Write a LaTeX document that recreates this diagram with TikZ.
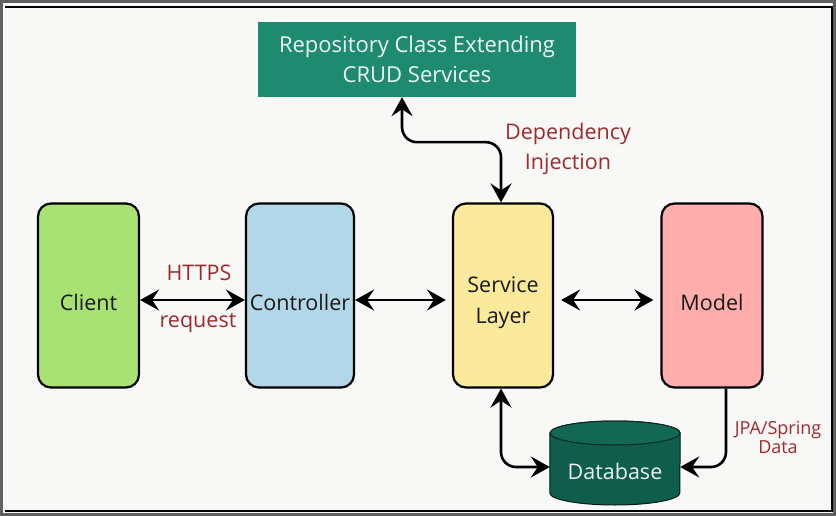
\documentclass[tikz,border=0pt]{standalone}
\usepackage{fontspec}
\setmainfont{Open Sans}
\usetikzlibrary{arrows.meta,calc}
\definecolor{teal1}{HTML}{1E8A70}
\definecolor{dbteal}{HTML}{0F5E4B}
\definecolor{dbtop}{HTML}{136854}
\definecolor{clientg}{HTML}{A9E274}
\definecolor{ctrlb}{HTML}{B2D7E8}
\definecolor{svcy}{HTML}{FCEA9C}
\definecolor{modelp}{HTML}{FFADAD}
\definecolor{lblred}{HTML}{9E2A2E}
\definecolor{bgc}{HTML}{F8F8F6}
\tikzset{
  compbox/.style={draw=black,line width=2.2pt,rounded corners=13pt,minimum width=101pt,minimum height=184pt,inner sep=0pt},
  boxtext/.style={font=\fontsize{21.5}{31}\selectfont,align=center,text=black!90,inner sep=0pt},
  conn/.style={line width=2.6pt,{Stealth[length=19pt,width=21pt,inset=7pt]}-{Stealth[length=19pt,width=21pt,inset=7pt]}},
  connone/.style={line width=2.6pt,-{Stealth[length=19pt,width=21pt,inset=7pt]}},
  lbl/.style={text=lblred,font=\fontsize{21.5}{30}\selectfont,align=center},
  lblsmall/.style={text=lblred,font=\fontsize{18}{19}\selectfont,align=center}
}
\begin{document}
\begin{tikzpicture}[x=1pt,y=-1pt]
\useasboundingbox (0,0) rectangle (836,516);
\fill[gray!75!black] (0,0) rectangle (836,516);
\fill[bgc] (3,3) rectangle (833,513);
\draw[black,line width=1.6pt] (5,7) -- (832,7) -- (832,511) -- (5,511);

% top repository box
\node[fill=teal1,minimum width=318pt,minimum height=75pt,text=white!92!teal1,font=\fontsize{22}{30}\selectfont,align=center,inner sep=0pt] (repo) at (417,59.5) {Repository Class Extending\\CRUD Services};

% component boxes
\node[compbox,fill=clientg] (client) at (88.5,295.5) {};
\node[compbox,fill=ctrlb,minimum width=108pt] (ctrl) at (300,295.5) {};
\node[compbox,fill=svcy,minimum width=100pt] (svc) at (503,295.5) {};
\node[compbox,fill=modelp] (model) at (712,295.5) {};
\node[boxtext] (clientT) at (88.5,302) {Client};
\node[boxtext] (ctrlT) at (300,302) {Controller};
\node[boxtext] (svcT) at (503,303) {Service\\Layer};
\node[boxtext] (modelT) at (712,302) {Model};

% database cylinder
\node[minimum width=130pt,minimum height=84pt,inner sep=0pt] (db) at (615,463) {};
\fill[dbteal,draw=black!70!dbteal,line width=1pt]
  (db.west |- 0,433) -- (db.west |- 0,493) arc[start angle=180,end angle=360,x radius=65pt,y radius=12pt]
  -- (db.east |- 0,433) arc[start angle=0,end angle=180,x radius=65pt,y radius=12pt] -- cycle;
\draw[fill=dbtop,draw=black!60!dbteal,line width=1pt] (615,433) ellipse[x radius=65pt,y radius=12pt];
\node[text=white!90!teal1,font=\fontsize{21.5}{25}\selectfont] (dbtext) at (615,471) {Database};

% connectors
\draw[conn] (client.east |- 0,300) -- (ctrl.west |- 0,300);
\draw[conn,shorten >=6pt] (ctrl.east |- 0,300) -- (svc.west |- 0,300);
\draw[conn,shorten <=7pt,shorten >=7pt] (svc.east |- 0,300) -- (model.west |- 0,300);

\coordinate (rs) at ($(repo.south west)!0.453!(repo.south east)$);
\draw[conn,rounded corners=15pt] (rs) -- ++(0,45) -| ([xshift=-2pt]svc.north);
\draw[conn,rounded corners=15pt] ([xshift=-2pt]svc.south) |- ([yshift=-4pt]db.west);
\draw[connone,rounded corners=15pt] ([xshift=14pt]model.south) |- ([yshift=-4pt]db.east);

% labels
\node[lbl] (https) at (199,273) {HTTPS};
\node[lbl] (req) at (198,323) {request};
\node[lbl] (dep) at (568,149) {Dependency\\Injection};
\node[lblsmall] (jpa) at (778,437) {JPA/Spring\\Data};
\end{tikzpicture}
\end{document}
